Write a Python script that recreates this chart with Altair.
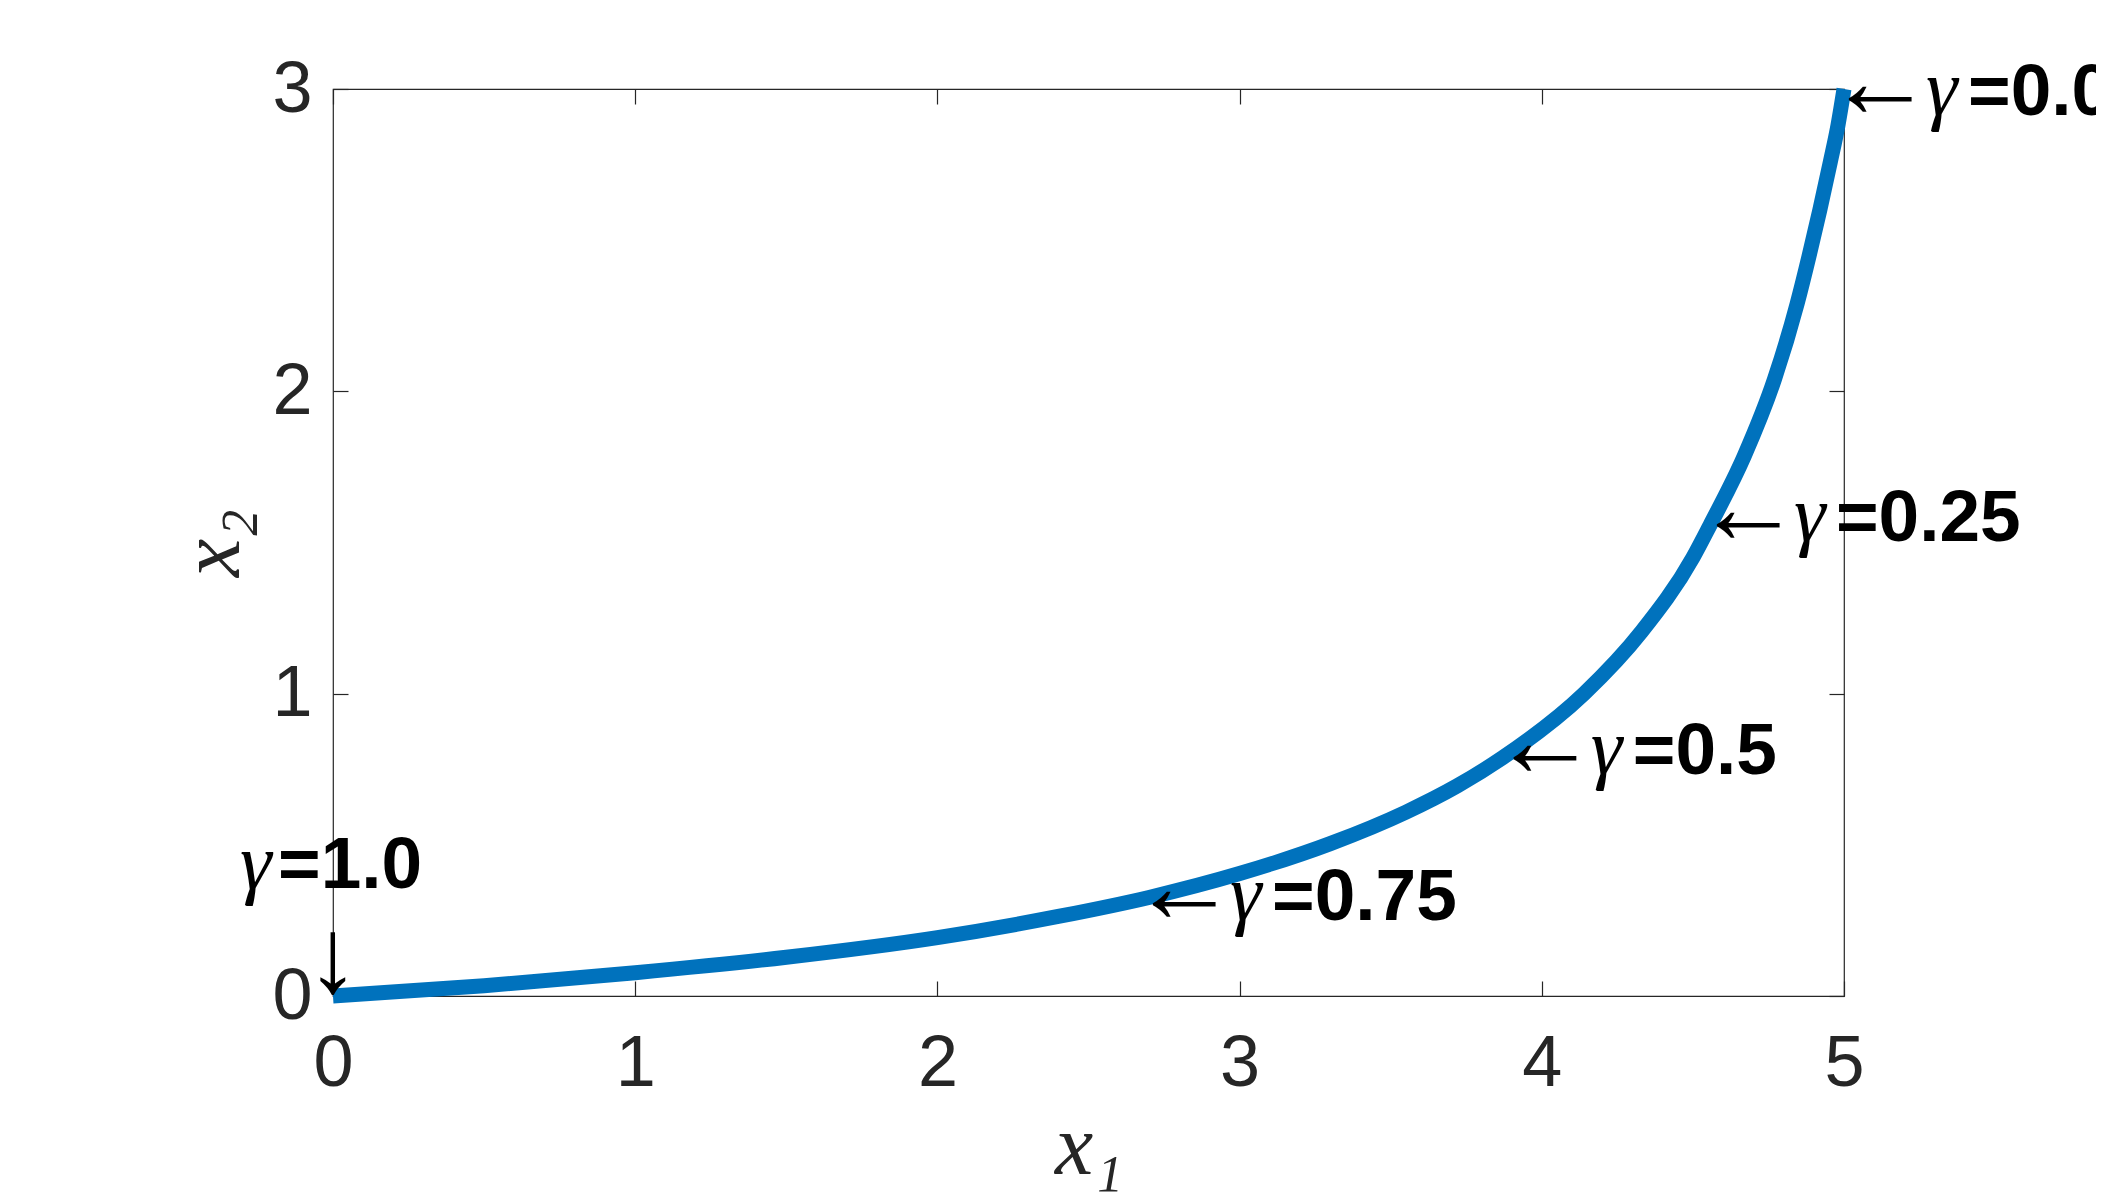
import altair as alt
import pandas as pd

# ---- data ----
x1_values = [0.0, 0.5, 1.0, 1.5, 2.0, 2.4, 2.7, 3.0, 3.3, 3.55, 3.72, 3.87, 4.14, 4.33, 4.50,
             4.556, 4.67, 4.77, 4.845, 4.885, 4.92, 4.955, 4.98, 5.0]
x2_values = [0.0, 0.034, 0.077, 0.128, 0.193, 0.263, 0.326, 0.405, 0.504, 0.608, 0.695, 0.788, 1.0, 1.205, 1.45,
             1.556, 1.786, 2.04, 2.29, 2.45, 2.60, 2.76, 2.88, 3.0]

gamma_labels = ["0.0", "0.25", "0.5", "0.75"]
gamma_x1 = [5.0, 4.563, 3.891, 2.697]
gamma_x2 = [3.0, 1.591, 0.820, 0.337]

end_label = "1.0"
end_x1 = [0.0]
end_x2 = [0.0]

x_ticks = [0, 1, 2, 3, 4, 5]
y_ticks = [0, 1, 2, 3]

W, H = 1511, 907
AX = "#262626"

curve = pd.DataFrame({"x1": x1_values, "x2": x2_values})
ann = pd.DataFrame({
    "x1": gamma_x1,
    "x2": gamma_x2,
    "arrow": ["←"] * len(gamma_labels),
    "g": ["γ"] * len(gamma_labels),
    "val": ["=" + s for s in gamma_labels],
})
end = pd.DataFrame({"x1": end_x1, "x2": end_x2, "arrow": ["↓"], "g": ["γ"], "val": ["=" + end_label]})

xs = alt.Scale(domain=[0, 5], nice=False, zero=False)
ys = alt.Scale(domain=[0, 3], nice=False, zero=False)

# main axes with labels and titles
ax_x = alt.Axis(values=x_ticks, format="d", ticks=False, domain=False, grid=False, labelFlush=False,
                labelFont="Liberation Sans", labelFontSize=72, labelColor=AX, labelPadding=32,
                title="x₁", titleFont="Liberation Serif", titleFontStyle="italic", titleFontWeight="normal",
                titleFontSize=86, titleColor=AX, titleX=W / 2, titleY=177, titleBaseline="alphabetic",
                titleAlign="center")
ax_y = alt.Axis(values=y_ticks, format="d", ticks=False, domain=False, grid=False, labelFlush=False,
                labelFont="Liberation Sans", labelFontSize=72, labelColor=AX, labelPadding=21,
                title="x₂", titleFont="Liberation Serif", titleFontStyle="italic", titleFontWeight="normal",
                titleFontSize=86, titleColor=AX, titleAngle=270, titleX=-95, titleY=H / 2,
                titleBaseline="alphabetic", titleAlign="center")


# inward tick axes (placed via offset)
def tick_axis(vals, orient, offset):
    return alt.Axis(values=vals, orient=orient, offset=offset, labels=False, domain=False, grid=False,
                    ticks=True, tickSize=15, tickColor=AX, tickWidth=1.2, title="")


line = alt.Chart(curve).mark_line(color="#0072BD", strokeWidth=15, strokeCap="butt",
                                  interpolate="monotone").encode(
    x=alt.X("x1:Q", scale=xs, axis=ax_x),
    y=alt.Y("x2:Q", scale=ys, axis=ax_y),
    order="x1:Q",
)

arrows = alt.Chart(ann).mark_text(align="left", baseline="alphabetic", font="Liberation Serif",
                                  fontSize=106, dx=-17, dy=28, color="black").encode(
    x=alt.X("x1:Q", scale=xs, axis=tick_axis(x_ticks, "top", -H)),
    y=alt.Y("x2:Q", scale=ys, axis=tick_axis(y_ticks, "right", -W)),
    text="arrow:N",
)

gammas = alt.Chart(ann).mark_text(align="left", baseline="alphabetic", font="Liberation Serif",
                                  fontStyle="italic", fontSize=80, dx=82, dy=26, color="black").encode(
    x=alt.X("x1:Q", scale=xs, axis=tick_axis(x_ticks, "bottom", -H)),
    y=alt.Y("x2:Q", scale=ys, axis=tick_axis(y_ticks, "left", -W)),
    text="g:N",
)

vals = alt.Chart(ann).mark_text(align="left", baseline="alphabetic", font="Liberation Sans",
                                fontWeight="bold", fontSize=73, dx=124, dy=26, color="black").encode(
    x=alt.X("x1:Q", scale=xs, axis=None),
    y=alt.Y("x2:Q", scale=ys, axis=None),
    text="val:N",
)

end_arrow = alt.Chart(end).mark_text(align="center", baseline="alphabetic", font="Liberation Serif",
                                     fontSize=106, dx=0, dy=-4, color="black").encode(
    x=alt.X("x1:Q", scale=xs, axis=None),
    y=alt.Y("x2:Q", scale=ys, axis=None),
    text="arrow:N",
)
end_g = alt.Chart(end).mark_text(align="left", baseline="alphabetic", font="Liberation Serif",
                                 fontStyle="italic", fontSize=80, dx=-93, dy=-107, color="black").encode(
    x=alt.X("x1:Q", scale=xs, axis=None),
    y=alt.Y("x2:Q", scale=ys, axis=None),
    text="g:N",
)
end_v = alt.Chart(end).mark_text(align="left", baseline="alphabetic", font="Liberation Sans",
                                 fontWeight="bold", fontSize=73, dx=-55, dy=-108, color="black").encode(
    x=alt.X("x1:Q", scale=xs, axis=None),
    y=alt.Y("x2:Q", scale=ys, axis=None),
    text="val:N",
)

chart = alt.layer(line, arrows, gammas, vals, end_arrow, end_g, end_v).resolve_axis(
    x="independent", y="independent"
).properties(
    width=W, height=H,
    autosize=alt.AutoSizeParams(type="none"),
    padding={"left": 325, "top": 81, "right": 252, "bottom": 196},
    background="white",
).configure_view(stroke=AX, strokeWidth=1.2)

chart.save("out.html", embed_options={"renderer": "svg", "actions": False})
